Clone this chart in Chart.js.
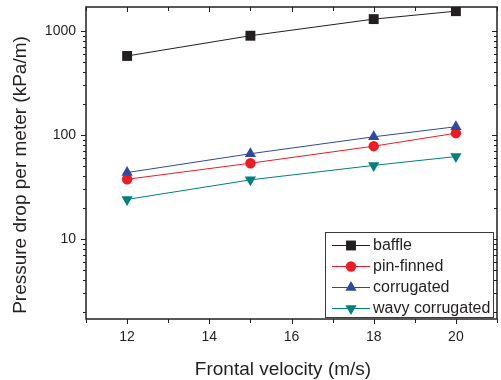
<!DOCTYPE html>
<html>
<head>
<meta charset="utf-8">
<script src="https://cdn.jsdelivr.net/npm/chart.js@4/dist/chart.umd.min.js"></script>
<style>
html,body{margin:0;padding:0;background:#fff;}
#wrap{width:501px;height:380px;}
</style>
</head>
<body>
<div id="wrap"><canvas id="c" width="501" height="380"></canvas></div>
<script>
const velocities = [12, 15, 18, 20];
const baffle = [575, 900, 1300, 1550];
const pinFinned = [37.5, 53.5, 78, 104];
const corrugated = [43.5, 66, 96, 120];
const wavyCorrugated = [24, 37, 51, 62];
const seriesNames = ['baffle', 'pin-finned', 'corrugated', 'wavy corrugated'];
const xTickLabels = [12, 14, 16, 18, 20];
const yTickLabels = [10, 100, 1000];

const FONT = '"Liberation Sans", Arial, Helvetica, sans-serif';
const pts = arr => velocities.map((v, i) => ({x: v, y: arr[i]}));

const styles = [
  {color: '#231f20', line: '#231f20', shape: 'rect', r: 7, rot: 0, order: 0},
  {color: '#ed1c24', line: '#ed1c24', shape: 'circle', r: 5.2, rot: 0, order: 2},
  {color: '#2e4a9e', line: '#2e4a9e', shape: 'triangle', r: 6.5, rot: 0, order: 1},
  {color: '#00817b', line: '#00817b', shape: 'triangle', r: 6.5, rot: 180, order: 3}
];
const seriesData = [baffle, pinFinned, corrugated, wavyCorrugated];

const datasets = seriesData.map((d, i) => ({
  label: seriesNames[i],
  data: pts(d),
  borderColor: styles[i].line,
  backgroundColor: styles[i].color,
  borderWidth: 1,
  pointStyle: styles[i].shape,
  pointRadius: styles[i].r,
  pointHoverRadius: styles[i].r,
  pointRotation: styles[i].rot,
  pointBorderWidth: 0,
  pointBackgroundColor: styles[i].color,
  order: styles[i].order,
  tension: 0
}));

const frame = {
  id: 'frame',
  afterDraw(chart) {
    const ctx = chart.ctx;
    const a = chart.chartArea;
    const xs = chart.scales.x, ys = chart.scales.y;
    ctx.save();
    ctx.strokeStyle = '#231f20';
    ctx.lineWidth = 1.5;
    ctx.strokeRect(a.left, a.top, a.right - a.left, a.bottom - a.top);
    ctx.lineWidth = 1;
    ctx.beginPath();
    for (let v = xs.min; v <= xs.max + 1e-9; v += 1) {
      const px = Math.round(xs.getPixelForValue(v)) + 0.5;
      const len = (v % 2 === 0) ? 5 : 4;
      ctx.moveTo(px, a.bottom); ctx.lineTo(px, a.bottom + len);
      ctx.moveTo(px, a.top); ctx.lineTo(px, a.top + len);
    }
    for (let d = 1; d <= 1000; d *= 10) {
      for (let m = 1; m <= 9; m++) {
        const v = m * d;
        if (v < ys.min || v > ys.max) continue;
        const py = Math.round(ys.getPixelForValue(v)) + 0.5;
        const len = (m === 1) ? 5 : 3;
        ctx.moveTo(a.left, py); ctx.lineTo(a.left - len, py);
        ctx.moveTo(a.right, py); ctx.lineTo(a.right - len, py);
      }
    }
    ctx.stroke();

    ctx.fillStyle = '#231f20';
    ctx.font = '19px ' + FONT;
    ctx.textAlign = 'center';
    ctx.textBaseline = 'middle';
    ctx.fillText('Frontal velocity (m/s)', 283, 370);
    ctx.save();
    ctx.translate(21, 175);
    ctx.rotate(-Math.PI / 2);
    ctx.fillText('Pressure drop per meter (kPa/m)', 0, 0);
    ctx.restore();

    const bx = 325, by = 232, bw = 168, bh = 85;
    ctx.fillStyle = '#ffffff';
    ctx.fillRect(bx, by, bw, bh);
    ctx.strokeStyle = '#3a3a3a';
    ctx.lineWidth = 1;
    ctx.strokeRect(bx + 0.5, by + 0.5, bw, bh);
    const rowY = [245, 266, 287, 308];
    ctx.font = '16px ' + FONT;
    ctx.textAlign = 'left';
    ctx.textBaseline = 'middle';
    chart.data.datasets.forEach((ds, i) => {
      const y = rowY[i];
      ctx.strokeStyle = ds.borderColor;
      ctx.lineWidth = 1;
      ctx.beginPath();
      ctx.moveTo(332, y + 0.5); ctx.lineTo(370, y + 0.5);
      ctx.stroke();
      ctx.fillStyle = ds.backgroundColor;
      Chart.helpers.drawPoint(ctx, {pointStyle: ds.pointStyle, rotation: ds.pointRotation, radius: ds.pointRadius, borderWidth: 0}, 351, y + 0.5);
      ctx.fillStyle = '#231f20';
      ctx.fillText(ds.label, 373, y + 1);
    });
    ctx.restore();
  }
};

new Chart(document.getElementById('c'), {
  type: 'line',
  data: {datasets},
  options: {
    responsive: false,
    animation: false,
    events: [],
    layout: {autoPadding: false, padding: {top: 7, right: 4, left: 0, bottom: 0}},
    plugins: {legend: {display: false}, tooltip: {enabled: false}},
    scales: {
      x: {
        type: 'linear',
        min: 11, max: 21,
        grid: {display: false, drawTicks: false},
        border: {display: false},
        afterBuildTicks: s => { s.ticks = xTickLabels.map(v => ({value: v})); },
        ticks: {
          autoSkip: false, maxRotation: 0, padding: 10,
          color: '#231f20',
          font: {family: FONT, size: 14},
          callback: v => String(v)
        },
        afterFit: s => { s.height = 61; s.paddingLeft = 0; s.paddingRight = 0; }
      },
      y: {
        type: 'logarithmic',
        min: 1.7, max: 1700,
        grid: {display: false, drawTicks: false},
        border: {display: false},
        afterBuildTicks: s => { s.ticks = yTickLabels.map(v => ({value: v})); },
        ticks: {
          padding: 10,
          color: '#231f20',
          font: {family: FONT, size: 14},
          callback: v => String(v)
        },
        afterFit: s => { s.width = 86; s.paddingTop = 0; s.paddingBottom = 0; }
      }
    }
  },
  plugins: [frame]
});
</script>
</body>
</html>
